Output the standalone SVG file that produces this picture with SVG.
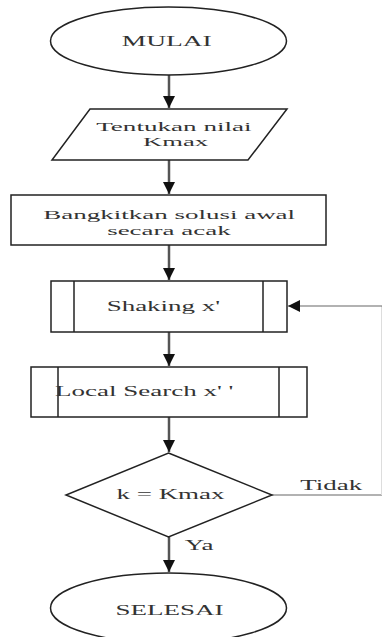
<svg xmlns="http://www.w3.org/2000/svg" width="382" height="637" viewBox="0 0 382 637">
<defs>
<style>
.s{fill:#fff;stroke:#222;stroke-width:1.5}
.t{font-family:"Liberation Serif","Times New Roman",serif;font-size:15px;fill:#333;text-anchor:middle}
.m{font-size:13.5px}
.c{fill:none;stroke:#555;stroke-width:2.5}
.c2{fill:none;stroke:#666;stroke-width:1.2}
.c3{fill:none;stroke:#ddd;stroke-width:1}
</style>
<marker id="ah" markerUnits="userSpaceOnUse" markerWidth="14" markerHeight="12" refX="12" refY="6" orient="auto">
<path d="M0,0 L12,6 L0,12 z" fill="#111"/>
</marker>
</defs>
<rect width="382" height="637" fill="#fff"/>
<g id="connectors">
<line class="c" x1="169" y1="75" x2="169" y2="108" marker-end="url(#ah)"/>
<line class="c" x1="169" y1="160" x2="169" y2="194" marker-end="url(#ah)"/>
<line class="c" x1="169" y1="245" x2="169" y2="280" marker-end="url(#ah)"/>
<line class="c" x1="169" y1="332" x2="169" y2="366" marker-end="url(#ah)"/>
<line class="c" x1="169" y1="417" x2="169" y2="452" marker-end="url(#ah)"/>
<line class="c" x1="169" y1="537" x2="169" y2="572" marker-end="url(#ah)"/>
<line class="c2" x1="272" y1="495" x2="382" y2="495"/>
<line class="c3" x1="381.5" y1="495" x2="381.5" y2="306"/>
<line class="c2" x1="382" y1="306" x2="288" y2="306" marker-end="url(#ah)"/>
<text class="t" transform="translate(331.2,490) scale(1.8,1)">Tidak</text>
<text class="t" transform="translate(199.2,550) scale(1.8,1)">Ya</text>
</g>
<g id="mulai">
<ellipse class="s" cx="168.5" cy="41" rx="118" ry="34"/>
<text class="t" transform="translate(166.7,46) scale(1.83,1)">MULAI</text>
</g>
<g id="tentukan">
<polygon class="s" points="90,109 287,109 248,160 52,160"/>
<text class="t m" transform="translate(173.9,131) scale(2.01,1)">Tentukan nilai</text>
<text class="t m" transform="translate(175.5,146) scale(1.97,1)">Kmax</text>
</g>
<g id="bangkitkan">
<rect class="s" x="11" y="195" width="315" height="50"/>
<text class="t m" transform="translate(169.2,219) scale(2,1)">Bangkitkan solusi awal</text>
<text class="t m" transform="translate(168.9,234.5) scale(2,1)">secara acak</text>
</g>
<g id="shaking">
<rect class="s" x="51" y="281" width="236" height="51"/>
<line class="s" x1="74" y1="281" x2="74" y2="332"/>
<line class="s" x1="263" y1="281" x2="263" y2="332"/>
<text class="t" transform="translate(163.4,311) scale(1.8,1)">Shaking x'</text>
</g>
<g id="localsearch">
<rect class="s" x="31" y="367" width="276" height="50"/>
<line class="s" x1="58" y1="367" x2="58" y2="417"/>
<line class="s" x1="279" y1="367" x2="279" y2="417"/>
<text class="t" transform="translate(144.2,396) scale(1.8,1)">Local Search x' '</text>
</g>
<g id="decision">
<polygon class="s" points="168.5,453 272,495 168.5,537 66,495"/>
<text class="t" transform="translate(170.5,499) scale(1.8,1)">k = Kmax</text>
</g>
<g id="selesai">
<ellipse class="s" cx="168.5" cy="608" rx="118" ry="35"/>
<text class="t" transform="translate(169.5,615) scale(1.8,1)">SELESAI</text>
</g>
</svg>
